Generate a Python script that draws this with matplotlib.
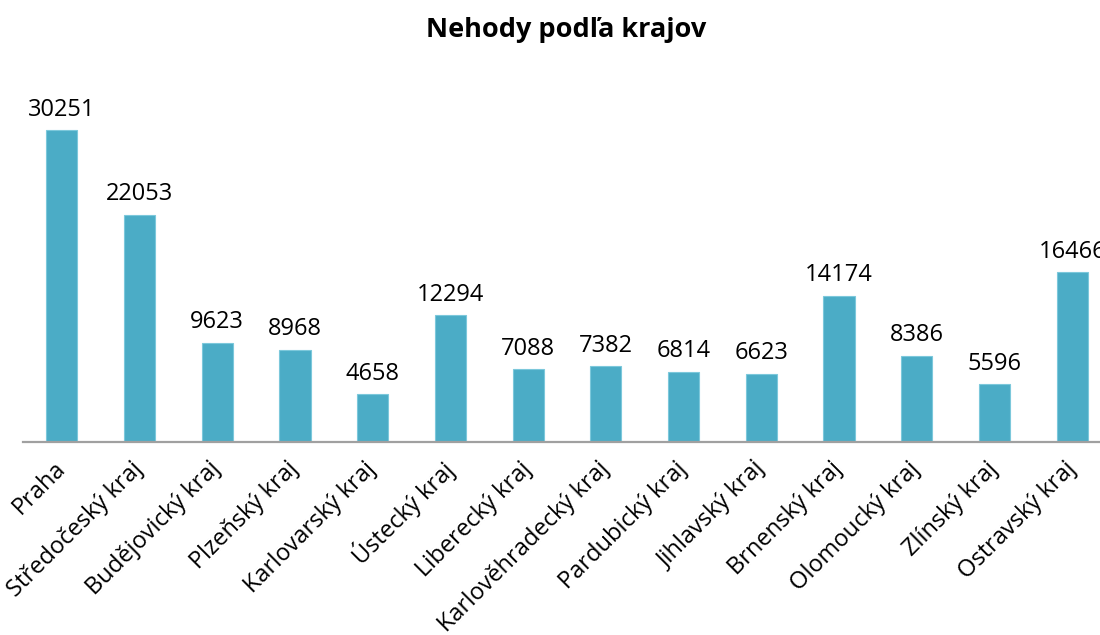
import matplotlib
matplotlib.use("Agg")
import matplotlib.pyplot as plt

categories = ["Praha", "Středočeský kraj", "Budějovický kraj", "Plzeňský kraj",
              "Karlovarský kraj", "Ústecký kraj", "Liberecký kraj",
              "Karlověhradecký kraj", "Pardubický kraj", "Jihlavský kraj",
              "Brnenský kraj", "Olomoucký kraj", "Zlínský kraj", "Ostravský kraj"]
values = [30251, 22053, 9623, 8968, 4658, 12294, 7088, 7382, 6814, 6623,
          14174, 8386, 5596, 16466]
title = "Nehody podľa krajov"

plt.rcParams['font.family'] = ['Open Sans', 'DejaVu Sans']

W, H = 1100, 635
fig = plt.figure(figsize=(W / 100, H / 100), dpi=100)
left_px, right_px, base_px, top_px = 23, 1111, 442, 81
ax = fig.add_axes([left_px / W, 1 - base_px / H,
                   (right_px - left_px) / W, (base_px - top_px) / H])

x = list(range(len(categories)))
bars = ax.bar(x, values, width=0.4, color="#4BACC6", edgecolor="#7CC8DB",
              linewidth=0.8, zorder=2)
ax.set_xlim(-0.5, len(categories) - 0.5)
ax.set_ylim(0, 35000)

for xi, v in zip(x, values):
    ax.annotate(str(v), (xi, v), xytext=(0, 6), textcoords="offset points",
                ha="center", va="bottom", fontsize=17, color="#000000",
                annotation_clip=False)

for s in ["top", "right", "left"]:
    ax.spines[s].set_visible(False)
ax.spines["bottom"].set_color("#A0A0A0")
ax.spines["bottom"].set_linewidth(1.6)
ax.set_yticks([])
ax.set_xticks(x)
ax.set_xticklabels(categories, rotation=45, ha="right", va="center",
                   rotation_mode="anchor", fontsize=17)
ax.tick_params(axis="x", length=0, pad=17)

fig.text(566 / W, 1 - 30 / H, title, ha="center", va="center",
         fontsize=19.5, fontweight="bold")

fig.savefig("out.png", dpi=100)
